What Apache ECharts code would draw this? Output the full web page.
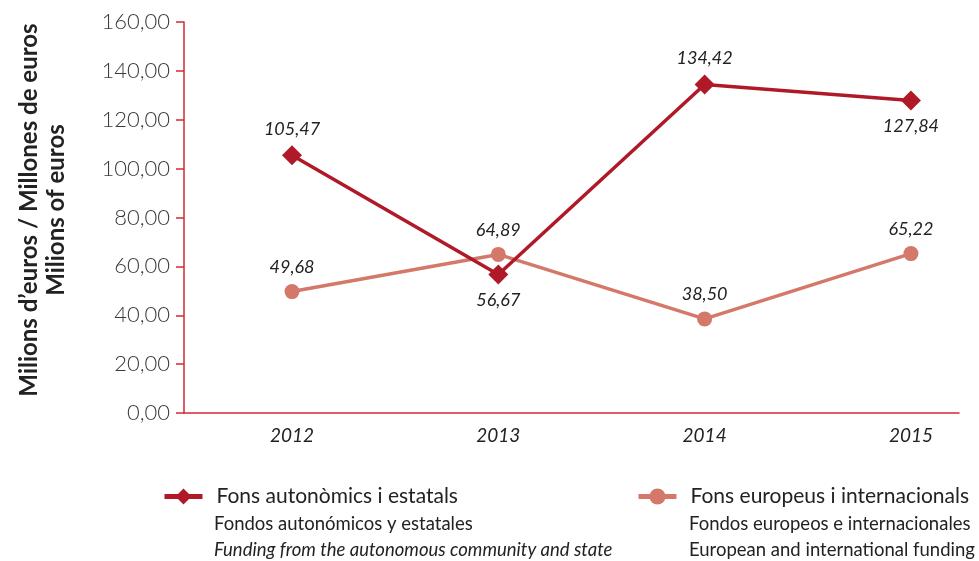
<!DOCTYPE html>
<html>
<head>
<meta charset="utf-8">
<script src="https://cdn.jsdelivr.net/npm/echarts@6/dist/echarts.min.js"></script>
<style>
  html, body { margin: 0; padding: 0; background: #fff; }
  #lineChart { width: 979px; height: 561px; }
</style>
</head>
<body>
<div id="lineChart"></div>
<script>
// dades del gràfic
const years = ['2012', '2013', '2014', '2015'];
const fonsAutonomics = [105.47, 56.67, 134.42, 127.84];
const fonsEuropeus = [49.68, 64.89, 38.50, 65.22];
const yTicks = [0, 20, 40, 60, 80, 100, 120, 140, 160];

const redColor = '#b01a28';
const salmonColor = '#d4786a';
const axisColor = '#cf2b38';
const fontName = 'Lato';

// posició de les etiquetes de la sèrie vermella (dalt / baix)
const redLabelPos = ['top', 'bottom', 'top', 'bottom'];

function fmt(v) {
  return v.toFixed(2).replace('.', ',');
}

function buildData(values, positions) {
  let out = [];
  for (let i = 0; i < values.length; i++) {
    let item = { value: [i, values[i]] };
    if (positions) {
      item.label = { position: positions[i] };
    }
    out.push(item);
  }
  return out;
}

let legendText = { fontSize: 21, color: '#222', fontFamily: fontName, padding: [0, 0, 0, 9] };

let myChart = echarts.init(document.getElementById('lineChart'));

myChart.setOption({
  backgroundColor: '#fff',
  textStyle: { fontFamily: fontName },
  animation: false,
  grid: {
    left: 184,
    right: 20,
    top: 22,
    bottom: 148
  },
  legend: [
    {
      left: 162,
      top: 486,
      padding: 0,
      itemWidth: 38,
      itemHeight: 20,
      itemGap: 0,
      lineStyle: { width: 5 },
      data: ['Fons autonòmics i estatals'],
      textStyle: legendText
    },
    {
      left: 636,
      top: 486,
      padding: 0,
      itemWidth: 38,
      itemHeight: 20,
      itemGap: 0,
      lineStyle: { width: 5 },
      data: ['Fons europeus i internacionals'],
      textStyle: legendText
    }
  ],
  graphic: [
    {
      type: 'text',
      x: 43,
      y: 210,
      rotation: Math.PI / 2,
      style: {
        text: 'Milions d\u2019euros / Millones de euros\nMilions of euros',
        font: 'bold 24px Lato',
        fill: '#222',
        align: 'center',
        verticalAlign: 'middle',
        lineHeight: 27
      }
    },
    {
      type: 'text', left: 214, top: 515,
      style: { text: 'Fondos autonómicos y estatales', font: '18.5px Lato', fill: '#222' }
    },
    {
      type: 'text', left: 214, top: 541,
      style: { text: 'Funding from the autonomous community and state', font: 'italic 18.5px Lato', fill: '#222' }
    },
    {
      type: 'text', left: 689, top: 515,
      style: { text: 'Fondos europeos e internacionales', font: '18.5px Lato', fill: '#222' }
    },
    {
      type: 'text', left: 689, top: 541,
      style: { text: 'European and international funding', font: '18.5px Lato', fill: '#222' }
    }
  ],
  xAxis: {
    type: 'value',
    min: -0.5235,
    max: 3.233,
    axisLine: { show: true, onZero: false, lineStyle: { color: axisColor, width: 1.5 } },
    axisTick: { show: false },
    splitLine: { show: false },
    axisLabel: {
      customValues: [0, 1, 2, 3],
      formatter: function (v) { return years[Math.round(v)]; },
      fontSize: 19,
      fontStyle: 'italic',
      color: '#222',
      margin: 13
    }
  },
  yAxis: {
    type: 'value',
    min: yTicks[0],
    max: yTicks[yTicks.length - 1],
    interval: 20,
    axisLine: { show: true, onZero: false, lineStyle: { color: axisColor, width: 1.5 } },
    axisTick: { show: true, length: 8, lineStyle: { color: axisColor, width: 1.5 } },
    splitLine: { show: false },
    axisLabel: {
      formatter: function (v) { return fmt(v); },
      fontSize: 22,
      fontWeight: 300,
      color: '#3a3a3a',
      margin: 14
    }
  },
  series: [
    {
      name: 'Fons autonòmics i estatals',
      type: 'line',
      data: buildData(fonsAutonomics, redLabelPos),
      symbol: 'diamond',
      symbolSize: 20,
      color: redColor,
      lineStyle: { color: redColor, width: 3.5 },
      itemStyle: { color: redColor },
      label: {
        show: true,
        distance: 7,
        fontSize: 18,
        fontStyle: 'italic',
        color: '#222',
        formatter: function (p) { return fmt(p.value[1]); }
      },
      z: 3
    },
    {
      name: 'Fons europeus i internacionals',
      type: 'line',
      data: buildData(fonsEuropeus),
      symbol: 'circle',
      symbolSize: 15,
      color: salmonColor,
      lineStyle: { color: salmonColor, width: 3.5 },
      itemStyle: { color: salmonColor },
      label: {
        show: true,
        position: 'top',
        distance: 8,
        fontSize: 18,
        fontStyle: 'italic',
        color: '#222',
        formatter: function (p) { return fmt(p.value[1]); }
      },
      z: 2
    }
  ]
});
</script>
</body>
</html>
